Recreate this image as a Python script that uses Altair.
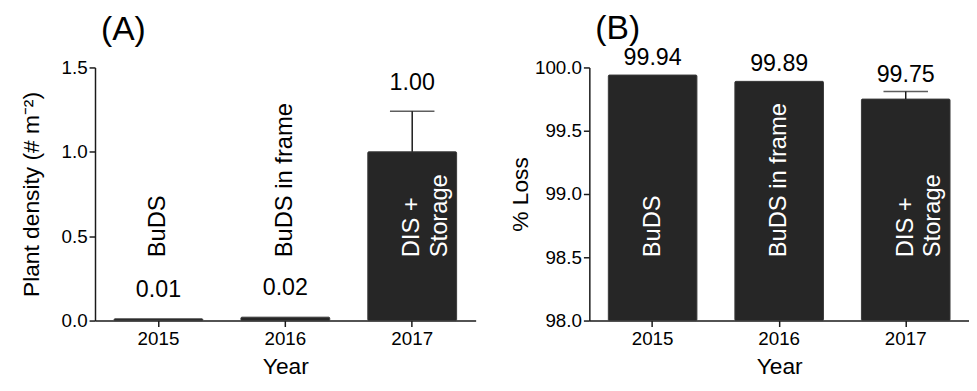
import altair as alt
import pandas as pd

years = ["2015", "2016", "2017"]
treatments = ["BuDS", "BuDS in frame", "DIS +\nStorage"]
density_mean = [0.01, 0.02, 1.00]
density_err = [0.0, 0.0, 0.24]
loss_mean = [99.94, 99.89, 99.75]
loss_err = [0.0, 0.0, 0.06]
density_ticks = [0.0, 0.5, 1.0, 1.5]
loss_ticks = [98.0, 98.5, 99.0, 99.5, 100.0]

FONT = "Liberation Sans"
BAR = "#262626"
INK = "#1a1a1a"


def panel(mean, err, ticks, ytitle, title, label_dy, title_offset, ytitle_pad, width):
    lo, hi = ticks[0], ticks[-1]
    anchor = lo + 0.25 * (hi - lo)
    df = pd.DataFrame({"year": years, "treat": treatments, "mean": mean, "err": err})
    df["top"] = df["mean"] + df["err"]
    df["anchor"] = anchor
    df["lo"] = lo
    df["tcolor"] = ["white" if m > anchor else "black" for m in mean]

    x = alt.X(
        "year:N",
        scale=alt.Scale(paddingInner=0.3, paddingOuter=0.15),
        axis=alt.Axis(labelAngle=0, title="Year", titlePadding=8, labelPadding=3),
    )
    yscale = alt.Scale(domain=[lo, hi], nice=False, zero=False)
    base = alt.Chart(df).encode(x=x)

    bars = base.mark_bar(color=BAR, stroke="#3a3a3a", strokeWidth=1, cornerRadius=1).encode(
        y=alt.Y(
            "mean:Q",
            scale=yscale,
            axis=alt.Axis(values=ticks, format=".1f", title=ytitle, titlePadding=ytitle_pad, labelPadding=2),
        ),
        y2="lo:Q",
    )
    errs = base.transform_filter("datum.err > 0")
    rule = errs.mark_rule(color=INK, strokeWidth=1.5).encode(y="mean:Q", y2="top:Q")
    cap = errs.mark_tick(color=INK, thickness=1.5, size=45).encode(y="top:Q")
    vals = base.mark_text(fontSize=23.5, font=FONT, dy=label_dy, baseline="middle", color="black").encode(
        y="top:Q", text=alt.Text("mean:Q", format=".2f")
    )
    inside = base.mark_text(
        angle=270, align="left", baseline="middle", fontSize=24, font=FONT, lineBreak="\n", lineHeight=28
    ).encode(y="anchor:Q", text="treat:N", color=alt.Color("tcolor:N", scale=None))

    return alt.layer(bars, rule, cap, vals, inside).properties(
        width=width,
        height=256,
        title=alt.TitleParams(
            text=title, anchor="start", frame="group", fontSize=34, font=FONT, fontWeight="normal",
            dx=6, offset=title_offset, color="black"
        ),
    )


a = panel(density_mean, density_err, density_ticks, "Plant density (# m⁻²)", "(A)", -29, 12, 18, 385)
b = panel(loss_mean, loss_err, loss_ticks, "% Loss", "(B)", -17, 0, 2, 384)

chart = (
    alt.hconcat(a, b, spacing=115, bounds="flush")
    .properties(padding={"left": 12, "top": 2, "right": 0, "bottom": 0})
    .configure_view(stroke=None)
    .configure_axis(
        grid=False,
        domainColor=INK,
        tickColor=INK,
        domainWidth=1.5,
        tickWidth=1.5,
        tickSize=6,
        labelFont=FONT,
        titleFont=FONT,
        labelFontSize=19,
        titleFontSize=23,
        titleFontWeight="normal",
        labelColor="black",
        titleColor="black",
    )
)

chart.save("out.html", embed_options={"renderer": "svg", "actions": False})
